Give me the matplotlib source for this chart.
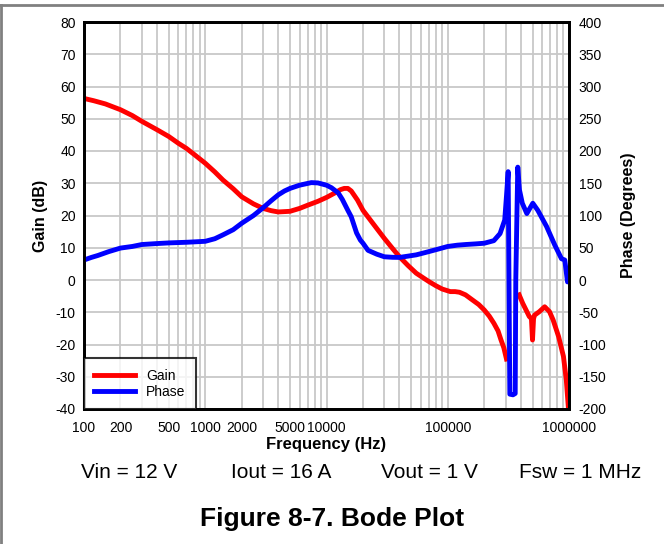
import numpy as np
import matplotlib.pyplot as plt
from matplotlib.lines import Line2D

plt.rcParams['font.family'] = ['Liberation Sans', 'DejaVu Sans']
plt.rcParams['axes.unicode_minus'] = False

# gain curve (Hz, dB); nan = hidden behind the phase spike
gain_freq = [100, 120, 150, 200, 250, 300, 400, 500, 600, 700, 800, 1000, 1200, 1400,
             1700, 2000, 2500, 3000, 3500, 4000, 5000, 6000, 7000, 8500, 10000,
             12000, 13000, 14000, 15000, 16000, 18000, 20000, 25000, 30000, 35000,
             40000, 47000, 55000, 62000, 70000, 80000, 90000, 105000, 115000,
             125000, 140000, 160000, 180000, 200000, 220000, 240000, 260000,
             275000, 290000, 305000, 340000, 388000, 415000, 470000, 490000,
             500000, 510000, 520000, 570000, 630000, 690000, 740000, 820000,
             900000, 950000, 990000, 1000000]
gain_db = [56.3, 55.6, 54.6, 52.8, 51, 49.2, 46.6, 44.5, 42.4, 40.8, 39.1, 36.2, 33.5, 31,
           28.3, 25.8, 23.6, 22.2, 21.5, 21.1, 21.3, 22.2, 23.2, 24.4, 25.6,
           27.2, 28, 28.4, 28.4, 27.6, 24.8, 21.6, 16.8, 12.9, 9.8,
           7.2, 4.5, 2.1, 0.8, -0.5, -1.8, -2.8, -3.6, -3.6,
           -3.8, -4.6, -6.2, -7.6, -9.3, -11.2, -13.4, -15.8,
           -18.6, -21, -24.5, np.nan, -4.6, -7.2, -11.3, -12,
           -18.6, -12, -10.9, -9.8, -8.3, -9.8, -12.4, -17.5,
           -23.7, -31, -40, -45]

# phase curve (Hz, degrees)
phase_freq = [100, 115, 130, 160, 200, 250, 300, 400, 500, 700, 1000, 1200, 1400, 1700,
              2000, 2500, 3000, 3500, 4000, 4500, 5000, 6000, 7500, 8500, 10000,
              11000, 12500, 13500, 15000, 16000, 17700, 19000, 20000, 22000, 26000,
              30000, 35000, 40000, 47000, 55000, 65000, 80000, 100000, 120000,
              140000, 170000, 200000, 240000, 270000, 295000, 305000, 315000,
              325000, 345000, 360000, 364000, 378000, 390000, 412000, 449000,
              503000, 553000, 653000, 764000, 867000, 923000, 972000, 1000000]
phase_deg = [31, 35, 38, 44, 49.5, 52, 55, 56.5, 57.5, 58.5, 60, 64, 70, 78,
             88, 100, 112, 123, 132, 138, 142, 147, 151, 150.5, 147,
             143, 135, 125, 108, 98, 73, 62, 57, 46, 40,
             36, 35.2, 35, 37, 39, 42.5, 47, 52, 54,
             55, 56, 57, 61, 72, 93, 130, 168,
             -177, -178, -176, 0, 175, 140, 119, 103,
             119, 108, 83, 54, 33, 31, -3, -2]

xticks = [100, 200, 500, 1000, 2000, 5000, 10000, 100000, 1000000]

fig = plt.figure(figsize=(6.64, 5.44), dpi=100)
ax = fig.add_axes([84/664, 1-409/544, 485/664, 387/544])
ax2 = ax.twinx()

ax.plot(gain_freq, gain_db, color='#ff0000', lw=3.5, label='Gain', solid_joinstyle='round')
ax2.plot(phase_freq, phase_deg, color='#0000ff', lw=3.5, label='Phase', solid_joinstyle='round')

ax.set_xscale('log')
ax.set_xlim(100, 1000000)
ax.set_ylim(-40, 80)
ax.set_yticks(np.arange(-40, 81, 10))
ax2.set_ylim(-200, 400)
ax2.set_yticks(np.arange(-200, 401, 50))
ax.set_xticks(xticks)
ax.set_xticklabels([str(t) for t in xticks])
ax.grid(True, which='both', color='#c8c8c8', lw=1.3)
ax.set_axisbelow(True)
ax.tick_params(axis='both', which='both', length=0, labelsize=10)
ax.tick_params(axis='x', pad=9)
ax.tick_params(axis='y', pad=6)
ax2.tick_params(axis='y', length=0, labelsize=10, pad=7)
for a in (ax, ax2):
    for s in a.spines.values():
        s.set_linewidth(2)
        s.set_color('black')

ax.set_xlabel('Frequency (Hz)', fontsize=12, fontweight='bold', labelpad=1)
ax.set_ylabel('Gain (dB)', fontsize=11.5, fontweight='bold', labelpad=5.5)
ax2.set_ylabel('Phase (Degrees)', fontsize=11.5, fontweight='bold', labelpad=10)

h1, l1 = ax.get_legend_handles_labels()
h2, l2 = ax2.get_legend_handles_labels()
leg = ax2.legend(h1 + h2, l1 + l2, loc='lower left', fontsize=10, frameon=True,
                 fancybox=False, borderaxespad=0, handlelength=2.9,
                 borderpad=0.75, labelspacing=0.15)
leg.get_frame().set_edgecolor('black')
leg.get_frame().set_linewidth(1.5)

params = ['Vin = 12 V', 'Iout = 16 A', 'Vout = 1 V', 'Fsw = 1 MHz']
for x, s in zip([129, 281, 429, 580], params):
    fig.text(x/664, 1-472/544, s, ha='center', va='center', fontsize=15)
fig.text(332/664, 1-519/544, 'Figure 8-7. Bode Plot', ha='center', va='center',
         fontsize=19, fontweight='bold')

fig.add_artist(Line2D([0, 1], [1-5/544, 1-5/544], color='#808080', lw=2))
fig.add_artist(Line2D([1/664, 1/664], [0, 1-5/544], color='#808080', lw=2))

fig.savefig('out.png', dpi=100)
